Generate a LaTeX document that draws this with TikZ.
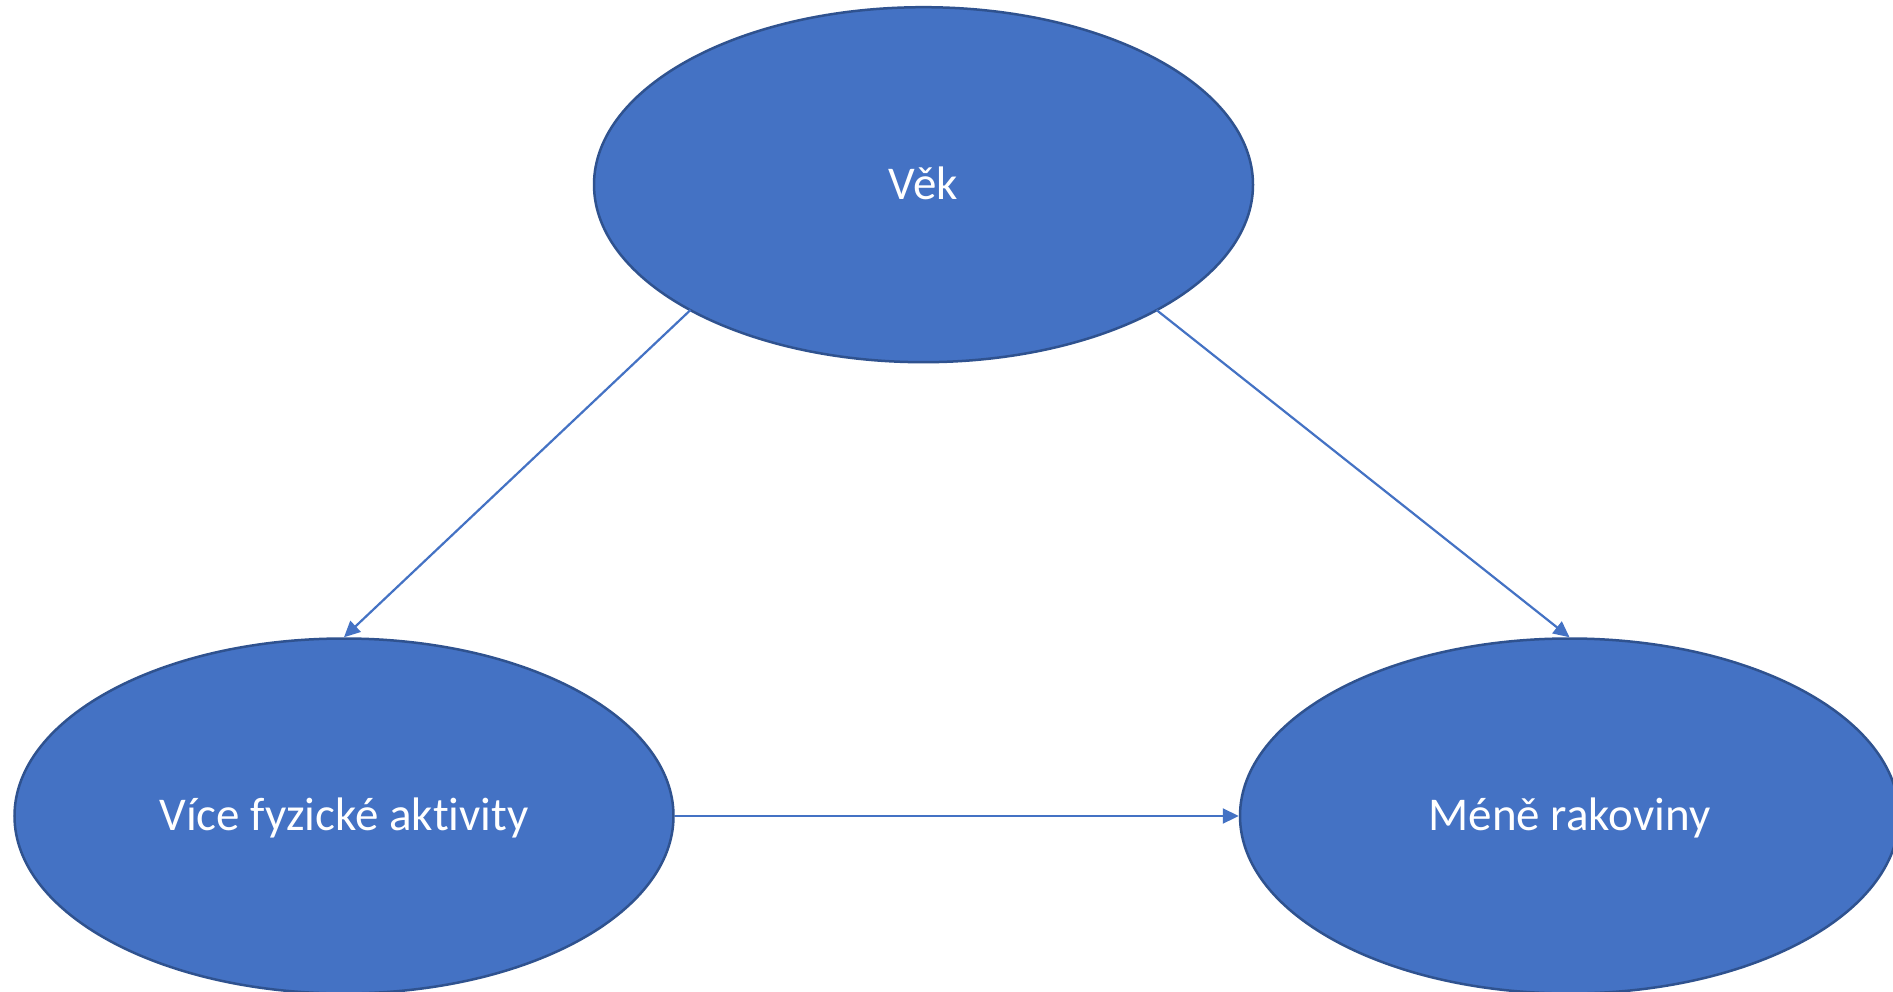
\documentclass[tikz,border=0pt]{standalone}
\usepackage{fontspec}
\setmainfont[Ligatures=NoCommon]{Carlito}
\usetikzlibrary{shapes.geometric,arrows.meta}
\definecolor{nodefill}{HTML}{4472C4}
\definecolor{nodeline}{HTML}{2F528F}
\definecolor{arrowcol}{HTML}{4472C4}
\tikzset{
  bubble/.style={ellipse, draw=nodeline, line width=2.5pt, fill=nodefill,
    minimum width=659pt, minimum height=355pt, inner sep=0pt,
    text height=40pt, text depth=10.8pt,
    text=white, font=\fontsize{47}{56}\selectfont},
  link/.style={draw=arrowcol, line width=2.2pt,
    -{Triangle[length=16pt,width=15pt]}}
}
\begin{document}
\begin{tikzpicture}[x=1pt,y=-1pt]
\useasboundingbox (0,0) rectangle (1893,992);
\clip (0,0) rectangle (1893,992);
\fill[white] (0,0) rectangle (1893,992);
\node[bubble] (vek) at (923.5,184.7) {Věk};
\node[bubble] (akt) at (344,816) {Více fyzické aktivity};
\node[bubble] (rak) at (1569.5,816) {Méně rakoviny};
\coordinate (s1) at (690.5,310);
\coordinate (s2) at (1156.5,310);
\draw[link] (s1) -- (akt.north);
\draw[link] (s2) -- (rak.north);
\draw[link] (akt.east) -- (rak.west);
\end{tikzpicture}
\end{document}
